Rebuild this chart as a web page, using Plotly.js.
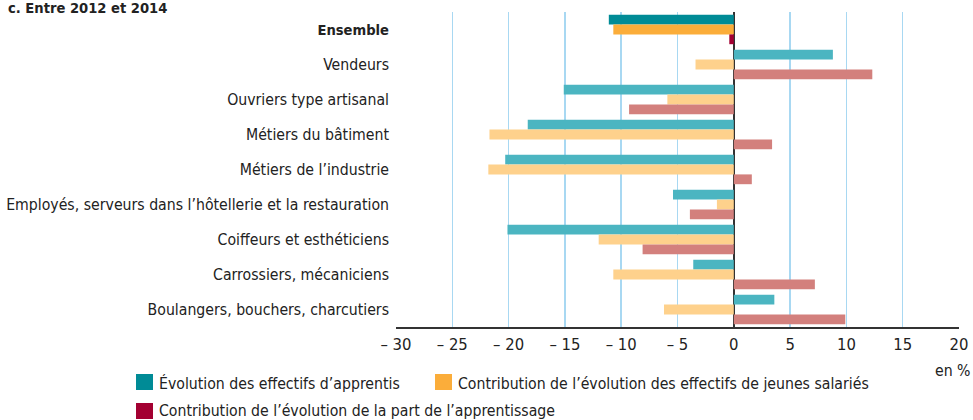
<!DOCTYPE html>
<html>
<head>
<meta charset="utf-8">
<script src="https://cdn.plot.ly/plotly-3.0.1.min.js"></script>
<style>
html,body{margin:0;padding:0;background:#fff;}
#chart{width:973px;height:420px;}
</style>
</head>
<body>
<div id="chart"></div>
<script>
const categories = [
  "<b><span style='font-size:14.6px'>Ensemble</span></b>",
  "Vendeurs",
  "Ouvriers type artisanal",
  "Métiers du bâtiment",
  "Métiers de l’industrie",
  "Employés, serveurs dans l’hôtellerie et la restauration",
  "Coiffeurs et esthéticiens",
  "Carrossiers, mécaniciens",
  "Boulangers, bouchers, charcutiers"
];
const seriesNames = [
  "Évolution des effectifs d’apprentis",
  "Contribution de l’évolution des effectifs de jeunes salariés",
  "Contribution de l’évolution de la part de l’apprentissage"
];
const evolApprentis   = [-11.1,  8.8, -15.1, -18.3, -20.3, -5.4, -20.1, -3.6,  3.6];
const contribJeunes   = [-10.7, -3.4,  -5.9, -21.7, -21.8, -1.5, -12.0, -10.7, -6.2];
const contribPart     = [ -0.4, 12.3,  -9.3,   3.4,   1.6, -3.9,  -8.1,  7.2,  9.9];
const xTickVals  = [-30, -25, -20, -15, -10, -5, 0, 5, 10, 15, 20];
const xTickText  = ["– 30", "– 25", "– 20", "– 15", "– 10", "– 5", "0", "5", "10", "15", "20"];

const darkColors  = ["#008B96", "#FBAD3A", "#A30032"];
const lightColors = ["#4BB5C1", "#FED18C", "#D3807D"];

const FONT = "'Liberation Sans Narrow', 'DejaVu Sans Condensed', 'Arial Narrow', sans-serif";
const seriesData = [evolApprentis, contribJeunes, contribPart];

const traces = seriesData.map((vals, i) => ({
  type: "bar",
  orientation: "h",
  name: seriesNames[i],
  x: vals,
  y: categories,
  marker: {
    color: categories.map((c, j) => j === 0 ? darkColors[i] : lightColors[i]),
    line: {width: 0}
  },
  showlegend: false,
  hovertemplate: "%{y}: %{x}<extra></extra>"
}));

// manual legend (squares + labels), positioned in paper coordinates
const W = 973, H = 420;
const ml = 396, mr = 14, mt = 12, mb = 93;
const pw = W - ml - mr, ph = H - mt - mb;
const px = x => (x - ml) / pw;
const py = y => (H - mb - y) / ph;
const legendItems = [
  {x0: 136, y0: 374, tx: 157, ty: 383},
  {x0: 435, y0: 374, tx: 456, ty: 383},
  {x0: 136, y0: 403, tx: 157, ty: 410}
];
const shapes = legendItems.map((it, i) => ({
  type: "rect", xref: "paper", yref: "paper",
  x0: px(it.x0), x1: px(it.x0 + 17), y0: py(it.y0), y1: py(it.y0 + 16),
  fillcolor: darkColors[i], line: {width: 0}
}));
const annotations = legendItems.map((it, i) => ({
  xref: "paper", yref: "paper", x: px(it.tx), y: py(it.ty),
  xanchor: "left", yanchor: "middle", showarrow: false,
  text: seriesNames[i], font: {family: FONT, size: 15.7, color: "#222"}
}));
annotations.push({
  xref: "paper", yref: "paper", x: px(973), y: py(370),
  xanchor: "right", yanchor: "middle", showarrow: false,
  text: "en %", font: {family: FONT, size: 15.7, color: "#222"}
});

const layout = {
  width: W, height: H,
  margin: {l: ml, r: mr, t: mt, b: mb, pad: 0},
  paper_bgcolor: "#fff", plot_bgcolor: "#fff",
  font: {family: FONT, size: 15.7, color: "#222"},
  title: {
    text: "<b>c. Entre 2012 et 2014</b>",
    font: {family: FONT, size: 14.6, color: "#222"},
    x: 8 / W, xanchor: "left", xref: "container",
    y: 1 - 8 / H, yanchor: "middle", yref: "container"
  },
  barmode: "group",
  bargap: 0.16,
  bargroupgap: 0,
  xaxis: {
    range: [-30, 20],
    tickvals: xTickVals, ticktext: xTickText,
    showgrid: true, gridcolor: "#A8D8F2", gridwidth: 1.5,
    zeroline: true, zerolinecolor: "#333", zerolinewidth: 2,
    showline: true, linecolor: "#333", linewidth: 2,
    ticks: "", ticklabelstandoff: 1,
    tickfont: {family: FONT, size: 16.5, color: "#222"},
    fixedrange: true
  },
  yaxis: {
    type: "category",
    autorange: "reversed",
    showgrid: false, zeroline: false, showline: false,
    ticks: "", ticklabelstandoff: 6,
    tickfont: {family: FONT, size: 15.7, color: "#222"},
    fixedrange: true
  },
  shapes: shapes,
  annotations: annotations,
  showlegend: false
};

Plotly.newPlot("chart", traces, layout, {displayModeBar: false, staticPlot: true});
</script>
</body>
</html>
